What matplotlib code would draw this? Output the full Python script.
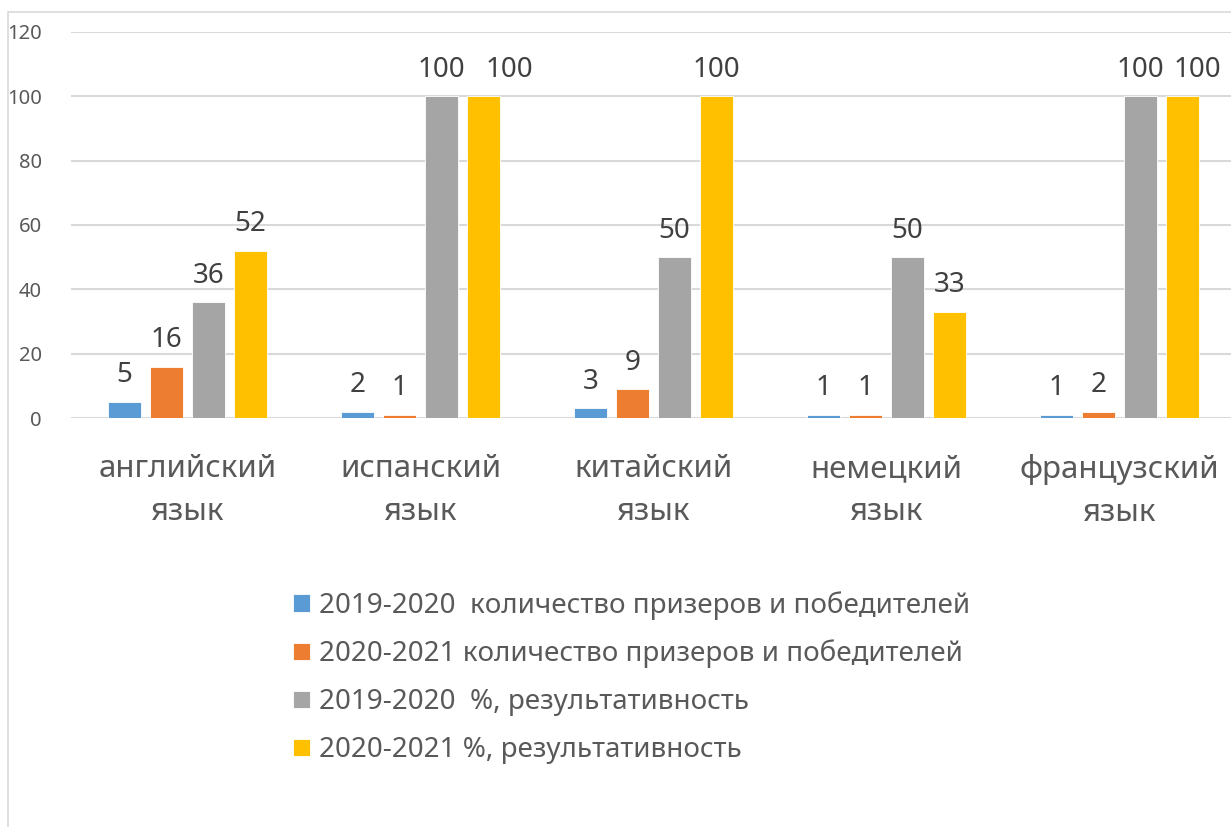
import matplotlib
matplotlib.use("Agg")
import matplotlib.pyplot as plt
from matplotlib.patches import Rectangle
import numpy as np

plt.rcParams['font.family'] = ['Noto Sans', 'DejaVu Sans']

# data
categories = ["английский\nязык", "испанский\nязык", "китайский\nязык",
              "немецкий\nязык", "французский\nязык"]
series_names = ["2019-2020  количество призеров и победителей",
                "2020-2021 количество призеров и победителей",
                "2019-2020  %, результативность",
                "2020-2021 %, результативность"]
count_1920 = [5, 2, 3, 1, 1]
count_2021 = [16, 1, 9, 1, 2]
pct_1920 = [36, 100, 50, 50, 100]
pct_2021 = [52, 100, 100, 33, 100]
colors = ["#5B9BD5", "#ED7D31", "#A5A5A5", "#FFC000"]

# labels pushed sideways so neighbouring "100"s don't collide (points)
label_nudge = {(3, 1): 19, (3, 4): 11}

fig = plt.figure(figsize=(12.31, 8.27), dpi=100)
ax = fig.add_axes([71 / 1231, 1 - 418 / 827, 1165 / 1231, 386 / 827])

x = np.arange(len(categories))
width = 0.142
step = 0.18
all_series = [count_1920, count_2021, pct_1920, pct_2021]
for i, (vals, col, name) in enumerate(zip(all_series, colors, series_names)):
    b = ax.bar(x + (i - 1.5) * step, vals, width, color=col, label=name,
               edgecolor="white", linewidth=0.6, zorder=3)
    for j, (rect, v) in enumerate(zip(b, vals)):
        ax.annotate(str(v), (rect.get_x() + rect.get_width() / 2, v),
                    xytext=(label_nudge.get((i, j), 0), 9),
                    textcoords="offset points", annotation_clip=False,
                    ha="center", va="bottom", fontsize=20, color="#404040")

ax.set_xlim(-0.5, len(categories) - 0.5)
ax.set_ylim(0, 120)
ax.set_yticks(range(0, 121, 20))
ax.set_xticks(x)
ax.set_xticklabels(categories, fontsize=22.5, color="#595959", linespacing=1.55)
ax.tick_params(axis="y", labelsize=14.5, labelcolor="#595959", length=0, pad=21)
ax.tick_params(axis="x", length=0, pad=26)
ax.yaxis.grid(True, color="#D9D9D9", linewidth=1.5, zorder=0)
for s in ax.spines.values():
    s.set_visible(False)

# chart border
fig.patches.append(Rectangle((8 / 1231, -0.1), 1.2, 1.1 - 12 / 827,
                             transform=fig.transFigure, fill=False,
                             edgecolor="#D9D9D9", linewidth=1.2, clip_on=False))

fig.legend(loc="upper left", bbox_to_anchor=(268 / 1231, 1 - 566 / 827),
           frameon=False, fontsize=20, labelcolor="#595959",
           handlelength=0.6, handleheight=0.6, handletextpad=0.35,
           labelspacing=0.72)

fig.savefig("out.png", dpi=100)
